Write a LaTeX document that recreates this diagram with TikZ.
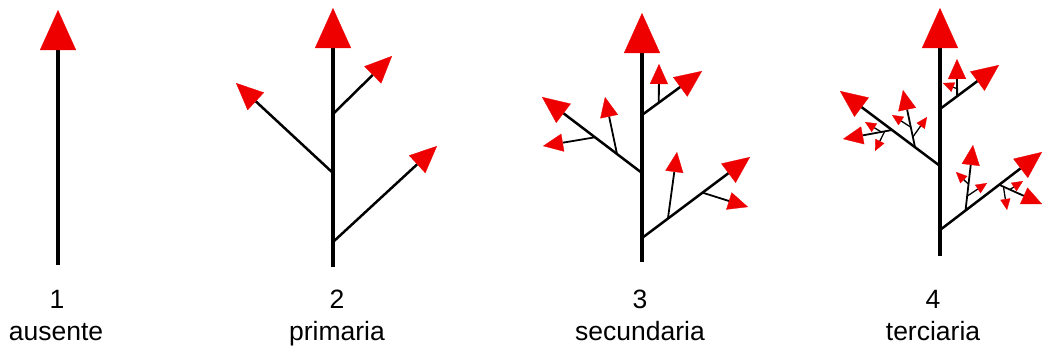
\documentclass[tikz,border=0pt]{standalone}
\usepackage{fontspec}
\setmainfont{Liberation Sans}
\usetikzlibrary{arrows.meta,calc}
\definecolor{tipred}{RGB}{238,0,0}
\tikzset{
  stemline/.style={line width=3.3pt,-{Triangle[length=40pt,width=36pt,color=tipred,fill=tipred,line width=0.3pt]}},
  primline/.style={line width=2.5pt,-{Triangle[length=27pt,width=24pt,color=tipred,fill=tipred,line width=0.3pt]}},
  secline/.style={line width=1.8pt,-{Triangle[length=20pt,width=18pt,color=tipred,fill=tipred,line width=0.3pt]}},
  terline/.style={line width=1.3pt,-{Triangle[length=11pt,width=10pt,color=tipred,fill=tipred,line width=0.3pt]}},
  lbl/.style={font=\fontsize{26.5}{30}\selectfont,anchor=base,inner sep=0pt}
}
\begin{document}
\begin{tikzpicture}[x=1pt,y=-1pt]
\useasboundingbox (0,0) rectangle (1043,351);
% ---------- panel 1
\coordinate (a0) at (58,265); \coordinate (a1) at (58,10);
\draw[stemline] (a0) -- (a1);
\node[lbl] (n1) at (57,308) {1};
\node[lbl] (t1) at (56,340) {ausente};
% ---------- panel 2
\coordinate (b0) at (333,267); \coordinate (b1) at (333,8);
\draw[stemline] (b0) -- (b1);
\coordinate (bLs) at (333,173); \coordinate (bLt) at (236,83);
\coordinate (bUs) at (333,114); \coordinate (bUt) at (392,56);
\coordinate (bDs) at (333,242); \coordinate (bDt) at (437,146);
\draw[primline] (bLs) -- (bLt);
\draw[primline] (bUs) -- (bUt);
\draw[primline] (bDs) -- (bDt);
\node[lbl] (n2) at (337,308) {2};
\node[lbl] (t2) at (337,340) {primaria};
% ---------- panel 3
\coordinate (c0) at (642,262); \coordinate (c1) at (642,13);
\draw[stemline] (c0) -- (c1);
\coordinate (cLs) at (642,173); \coordinate (cLt) at (542,97);
\coordinate (cUs) at (642,115); \coordinate (cUt) at (702,71);
\coordinate (cDs) at (642,238); \coordinate (cDt) at (750,157);
\draw[primline] (cLs) -- (cLt);
\draw[primline] (cUs) -- (cUt);
\draw[primline] (cDs) -- (cDt);
\coordinate (cL1s) at ($(cLs)!0.25!(cLt)$); \coordinate (cL1t) at (605,97);
\coordinate (cL2s) at ($(cLs)!0.47!(cLt)$); \coordinate (cL2t) at (543,146);
\coordinate (cU1s) at ($(cUs)!0.28!(cUt)$); \coordinate (cU1t) at (659,64);
\coordinate (cD1s) at ($(cDs)!0.24!(cDt)$); \coordinate (cD1t) at (677,152);
\coordinate (cD2s) at ($(cDs)!0.56!(cDt)$); \coordinate (cD2t) at (748,207);
\draw[secline] (cL1s) -- (cL1t);
\draw[secline] (cL2s) -- (cL2t);
\draw[secline] (cU1s) -- (cU1t);
\draw[secline] (cD1s) -- (cD1t);
\draw[secline] (cD2s) -- (cD2t);
\node[lbl] (n3) at (640,308) {3};
\node[lbl] (t3) at (640,340) {secundaria};
% ---------- panel 4
\coordinate (d0) at (940,256); \coordinate (d1) at (940,8);
\draw[stemline] (d0) -- (d1);
\coordinate (dLs) at (940,166); \coordinate (dLt) at (840,91);
\coordinate (dUs) at (940,109); \coordinate (dUt) at (999,65);
\coordinate (dDs) at (940,230); \coordinate (dDt) at (1042,152);
\draw[primline] (dLs) -- (dLt);
\draw[primline] (dUs) -- (dUt);
\draw[primline] (dDs) -- (dDt);
% secondary
\coordinate (dL1s) at ($(dLs)!0.25!(dLt)$); \coordinate (dL1t) at (903,90);
\coordinate (dL2s) at ($(dLs)!0.48!(dLt)$); \coordinate (dL2t) at (843,139);
\coordinate (dU1s) at ($(dUs)!0.29!(dUt)$); \coordinate (dU1t) at (957,59);
\coordinate (dD1s) at ($(dDs)!0.25!(dDt)$); \coordinate (dD1t) at (973,145);
\coordinate (dD2s) at ($(dDs)!0.58!(dDt)$); \coordinate (dD2t) at (1042,204);
\draw[secline] (dL1s) -- (dL1t);
\draw[secline] (dL2s) -- (dL2t);
\draw[secline] (dU1s) -- (dU1t);
\draw[secline] (dD1s) -- (dD1t);
\draw[secline] (dD2s) -- (dD2t);
% tertiary
\coordinate (dL1as) at ($(dL1s)!0.35!(dL1t)$); \coordinate (dL1at) at (892,115);
\coordinate (dL1bs) at ($(dL1s)!0.18!(dL1t)$); \coordinate (dL1bt) at (927,117);
\coordinate (dL2as) at ($(dL2s)!0.22!(dL2t)$); \coordinate (dL2at) at (865,122);
\coordinate (dL2bs) at ($(dL2s)!0.15!(dL2t)$); \coordinate (dL2bt) at (875,151);
\coordinate (dU1as) at ($(dU1s)!0.2!(dU1t)$); \coordinate (dU1at) at (943,83);
\coordinate (dD1as) at ($(dD1s)!0.4!(dD1t)$); \coordinate (dD1at) at (956,172);
\coordinate (dD1bs) at ($(dD1s)!0.22!(dD1t)$); \coordinate (dD1bt) at (987,183);
\coordinate (dD2as) at ($(dD2s)!0.25!(dD2t)$); \coordinate (dD2at) at (1023,181);
\coordinate (dD2bs) at ($(dD2s)!0.1!(dD2t)$); \coordinate (dD2bt) at (1007,210);
\foreach \p in {dL1a,dL1b,dL2a,dL2b,dU1a,dD1a,dD1b,dD2a,dD2b}{
  \draw[terline] (\p s) -- (\p t);
}
\node[lbl] (n4) at (933,308) {4};
\node[lbl] (t4) at (933,340) {terciaria};
\end{tikzpicture}
\end{document}
